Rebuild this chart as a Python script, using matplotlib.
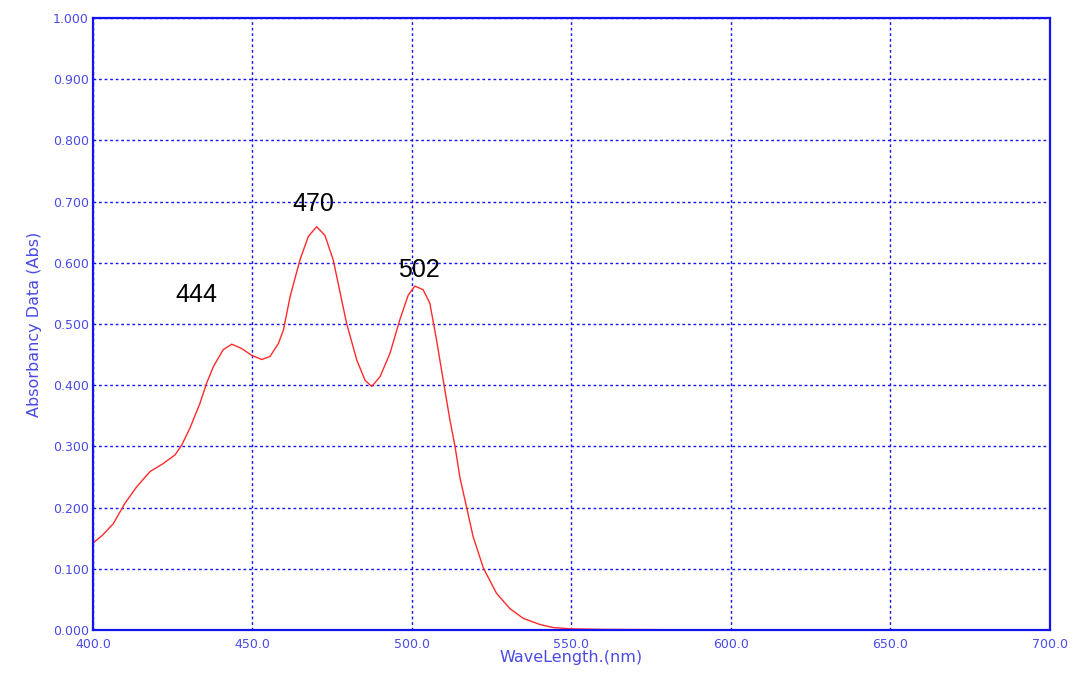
import matplotlib.pyplot as plt

# Absorbance spectrum, 400-700 nm
wavelength = [400.0, 403.0, 406.4, 410.0, 413.7, 417.9, 422.0, 425.7, 427.8, 430.4,
              433.5, 435.6, 437.7, 440.8, 443.5, 446.6, 449.7, 452.9, 455.5, 458.1,
              459.7, 461.8, 464.9, 467.5, 470.1, 472.7, 475.3, 479.5, 482.7, 485.3,
              487.4, 490.0, 493.1, 496.2, 498.8, 500.9, 503.5, 505.6, 507.7, 509.8,
              511.9, 513.5, 515.0, 517.1, 519.2, 522.4, 526.5, 530.7, 534.9, 540.1,
              544.3, 549.5, 560.0, 600.0, 650.0, 700.0]
absorbance = [0.142, 0.155, 0.174, 0.207, 0.234, 0.259, 0.272, 0.286, 0.302, 0.330,
              0.370, 0.403, 0.430, 0.458, 0.467, 0.460, 0.449, 0.442, 0.447, 0.468,
              0.490, 0.545, 0.605, 0.643, 0.659, 0.645, 0.605, 0.501, 0.441, 0.408,
              0.398, 0.414, 0.452, 0.507, 0.547, 0.562, 0.556, 0.534, 0.474, 0.408,
              0.343, 0.300, 0.250, 0.201, 0.152, 0.101, 0.060, 0.035, 0.019, 0.009,
              0.004, 0.002, 0.001, 0.000, 0.000, 0.000]

# Peak labels: (text, x, y)
peak_labels = ["444", "470", "502"]
peak_x = [432.3, 469.0, 502.2]
peak_y = [0.547, 0.696, 0.588]

x_ticks = [400, 450, 500, 550, 600, 650, 700]
y_ticks = [0.0, 0.1, 0.2, 0.3, 0.4, 0.5, 0.6, 0.7, 0.8, 0.9, 1.0]

BLUE = "#1414f0"
LABEL_BLUE = "#4a4ae6"

fig = plt.figure(figsize=(10.75, 6.77), dpi=100)
ax = fig.add_axes([0.0865, 0.0694, 0.8902, 0.904])

ax.plot(wavelength, absorbance, color="#ff2a2a", linewidth=1.0, zorder=3)

for txt, px, py in zip(peak_labels, peak_x, peak_y):
    ax.text(px, py, txt, ha="center", va="center", fontsize=18,
            family="Liberation Sans", color="black")

ax.set_xlim(400, 700)
ax.set_ylim(0, 1.0)
ax.set_xticks(x_ticks)
ax.set_yticks(y_ticks)
ax.set_xticklabels([f"{v:.1f}" for v in x_ticks])
ax.set_yticklabels([f"{v:.3f}" for v in y_ticks])
ax.tick_params(length=0, labelsize=9, labelcolor=LABEL_BLUE)
ax.tick_params(axis="x", pad=6)
ax.tick_params(axis="y", pad=3)

ax.grid(True, color=BLUE, linestyle=(0, (2, 2)), linewidth=1.0)
ax.set_axisbelow(True)

for sp in ax.spines.values():
    sp.set_color(BLUE)
    sp.set_linewidth(1.6)
    sp.set_zorder(4)

ax.set_xlabel("WaveLength.(nm)", fontsize=11.5, color=LABEL_BLUE, labelpad=-1)
ax.set_ylabel("Absorbancy Data (Abs)", fontsize=11.5, color=LABEL_BLUE, labelpad=8)

fig.savefig("out.png", dpi=100)
